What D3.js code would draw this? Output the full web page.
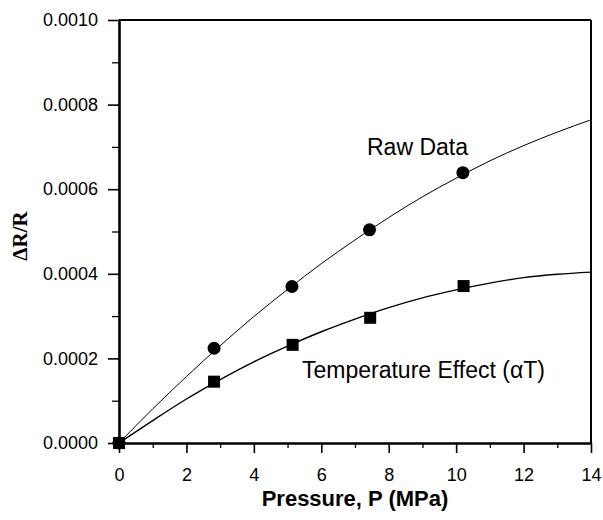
<!DOCTYPE html>
<html lang="en">
<head>
    <meta charset="UTF-8">
    <title>Delta R / R vs Pressure</title>
    <script src="https://d3js.org/d3.v7.min.js"></script>
    <style>
        body { margin: 0; background: #fff; }
        svg text { font-family: "Liberation Sans", Arial, Helvetica, sans-serif; fill: #000; }
    </style>
</head>
<body>
<div id="chart"></div>

<script>
    // measured points
    const rawP = [0, 2.82, 5.13, 7.43, 10.2];
    const rawR = [0, 0.000224, 0.000370, 0.000504, 0.000639];
    const tempP = [0, 2.82, 5.15, 7.45, 10.22];
    const tempR = [0, 0.000145, 0.000232, 0.000296, 0.000371];

    // fitted curves
    const curveP = [0, 1, 2, 3, 4, 5, 6, 7, 8, 9, 10, 11, 12, 13, 14];
    const rawCurve = [0, 0.0000807, 0.000157, 0.000230, 0.000299, 0.000363, 0.000424, 0.000480,
        0.000533, 0.000582, 0.000626, 0.000667, 0.000703, 0.000735, 0.000764];
    const tempCurve = [0, 0.000053, 0.000104, 0.000150, 0.000192, 0.000229, 0.000263, 0.000293,
        0.000320, 0.000343, 0.000362, 0.000378, 0.000391, 0.000399, 0.000404];

    const xTicks = [0, 2, 4, 6, 8, 10, 12, 14];
    const xMinor = [1, 3, 5, 7, 9, 11, 13];
    const yTicks = [0, 0.0002, 0.0004, 0.0006, 0.0008, 0.0010];
    const yMinor = [0.0001, 0.0003, 0.0005, 0.0007, 0.0009];

    const margin = { top: 20, right: 12, bottom: 77, left: 119 },
        width = 603 - margin.left - margin.right,
        height = 520 - margin.top - margin.bottom;

    const svg = d3.select("#chart").append("svg")
        .attr("width", 603)
        .attr("height", 520);

    const g = svg.append("g")
        .attr("transform", `translate(${margin.left},${margin.top})`);

    const x = d3.scaleLinear().domain([0, 14]).range([0, width]);
    const y = d3.scaleLinear().domain([0, 0.001]).range([height, 0]);

    // frame (top and right)
    g.append("line").attr("x1", 0).attr("x2", width).attr("y1", 0).attr("y2", 0)
        .attr("stroke", "#000").attr("stroke-width", 2);
    g.append("line").attr("x1", width).attr("x2", width).attr("y1", 0).attr("y2", height)
        .attr("stroke", "#000").attr("stroke-width", 2);

    // minor ticks
    g.append("g")
        .attr("transform", `translate(0,${height})`)
        .call(d3.axisBottom(x).tickValues(xMinor).tickSize(5).tickFormat(""))
        .call(a => a.select(".domain").remove())
        .selectAll("line").attr("stroke-width", 1.3);
    g.append("g")
        .call(d3.axisLeft(y).tickValues(yMinor).tickSize(7).tickFormat(""))
        .call(a => a.select(".domain").remove())
        .selectAll("line").attr("stroke-width", 1.3);

    // major axes
    const xAxis = g.append("g")
        .attr("transform", `translate(0,${height})`)
        .call(d3.axisBottom(x).tickValues(xTicks).tickSize(10).tickPadding(15).tickSizeOuter(0)
            .tickFormat(d3.format("d")));
    xAxis.select(".domain").attr("stroke-width", 2.6);
    xAxis.selectAll(".tick line").attr("stroke-width", 1.6);
    xAxis.selectAll("text").attr("font-size", 18)
        .style("font-family", "'Liberation Sans', Arial, sans-serif");

    const yAxis = g.append("g")
        .call(d3.axisLeft(y).tickValues(yTicks).tickSize(11).tickPadding(10).tickSizeOuter(0)
            .tickFormat(d3.format(".4f")));
    yAxis.select(".domain").attr("stroke-width", 2.6);
    yAxis.selectAll(".tick line").attr("stroke-width", 1.6);
    yAxis.selectAll("text").attr("font-size", 18)
        .style("font-family", "'Liberation Sans', Arial, sans-serif");

    // curves
    const line = d3.line()
        .x(d => x(d[0]))
        .y(d => y(d[1]))
        .curve(d3.curveMonotoneX);

    g.append("path")
        .datum(curveP.map((p, i) => [p, rawCurve[i]]))
        .attr("fill", "none")
        .attr("stroke", "#000")
        .attr("stroke-width", 1)
        .attr("d", line);

    g.append("path")
        .datum(curveP.map((p, i) => [p, tempCurve[i]]))
        .attr("fill", "none")
        .attr("stroke", "#000")
        .attr("stroke-width", 1.4)
        .attr("d", line);

    // markers
    g.selectAll("circle.raw")
        .data(rawP.map((p, i) => [p, rawR[i]]))
        .enter().append("circle")
        .attr("class", "raw")
        .attr("cx", d => x(d[0]))
        .attr("cy", d => y(d[1]))
        .attr("r", 6.5)
        .attr("fill", "#000");

    const sq = 12;
    g.selectAll("rect.temp")
        .data(tempP.map((p, i) => [p, tempR[i]]))
        .enter().append("rect")
        .attr("class", "temp")
        .attr("x", d => x(d[0]) - sq / 2)
        .attr("y", d => y(d[1]) - sq / 2)
        .attr("width", sq)
        .attr("height", sq)
        .attr("fill", "#000");

    // annotations
    svg.append("text")
        .attr("x", 367).attr("y", 155)
        .attr("font-size", 23)
        .text("Raw Data");

    svg.append("text")
        .attr("x", 302).attr("y", 378)
        .attr("font-size", 23)
        .text("Temperature Effect (αT)");

    // axis titles
    svg.append("text")
        .attr("x", 355).attr("y", 506)
        .attr("text-anchor", "middle")
        .attr("font-size", 22)
        .attr("font-weight", "bold")
        .text("Pressure, P (MPa)");

    svg.append("text")
        .attr("transform", "translate(27,236) rotate(-90)")
        .attr("text-anchor", "middle")
        .attr("font-size", 21)
        .attr("font-weight", "bold")
        .style("font-family", "'Liberation Serif', 'Times New Roman', serif")
        .text("ΔR/R");
</script>
</body>
</html>
